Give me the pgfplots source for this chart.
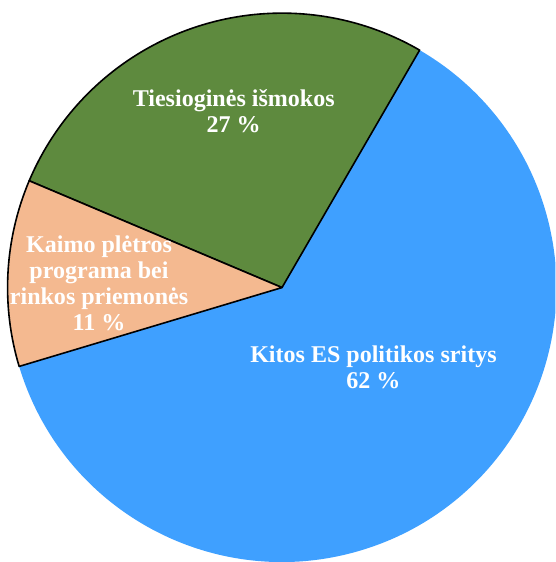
\documentclass[border=0pt]{standalone}
\usepackage{fontspec}
\setmainfont{Liberation Serif}
\usepackage{pgfplots}
\usepackage{pgfplotstable}
\pgfplotsset{compat=1.18}
\definecolor{cblue}{RGB}{63,160,255}
\definecolor{cgreen}{RGB}{94,138,62}
\definecolor{corange}{RGB}{244,185,144}
\pgfplotstableread{
label value
green 27
orange 11
blue 62
}\piedata
\pgfplotstablegetelem{0}{value}\of\piedata \let\vA\pgfplotsretval
\pgfplotstablegetelem{1}{value}\of\piedata \let\vB\pgfplotsretval
\pgfplotstablegetelem{2}{value}\of\piedata \let\vC\pgfplotsretval
\pgfmathsetmacro\aS{59.9}
\pgfmathsetmacro\aA{\aS+3.6*\vA}
\pgfmathsetmacro\aB{\aA+3.6*\vB}
\pgfmathsetmacro\aC{\aB+3.6*\vC}
\begin{document}
\begin{tikzpicture}
\begin{axis}[
  width=553bp, height=562bp, scale only axis,
  xmin=0, xmax=553, ymin=0, ymax=562,
  hide axis, clip=true,
]
\fill[cblue] (axis cs:281,273) -- ++(\aB:273bp) arc[start angle=\aB, end angle=\aC, radius=273bp] -- cycle;
\filldraw[fill=cgreen, draw=black, line width=1.6bp, line join=round] (axis cs:281,273) -- ++(\aS:273bp) arc[start angle=\aS, end angle=\aA, radius=273bp] -- cycle;
\filldraw[fill=corange, draw=black, line width=1.6bp, line join=round] (axis cs:281,273) -- ++(\aA:273bp) arc[start angle=\aA, end angle=\aB, radius=273bp] -- cycle;
\begin{scope}[every node/.style={text=white, align=center, font=\fontsize{24}{26}\selectfont\bfseries, inner sep=0pt}]
\node at (axis cs:233,448) {Tiesioginės išmokos\\27 \%};
\node at (axis cs:99,277) {Kaimo plėtros\\programa bei\\rinkos priemonės\\11 \%};
\node at (axis cs:372,194) {Kitos ES politikos sritys\\62 \%};
\end{scope}
\end{axis}
\end{tikzpicture}
\end{document}
